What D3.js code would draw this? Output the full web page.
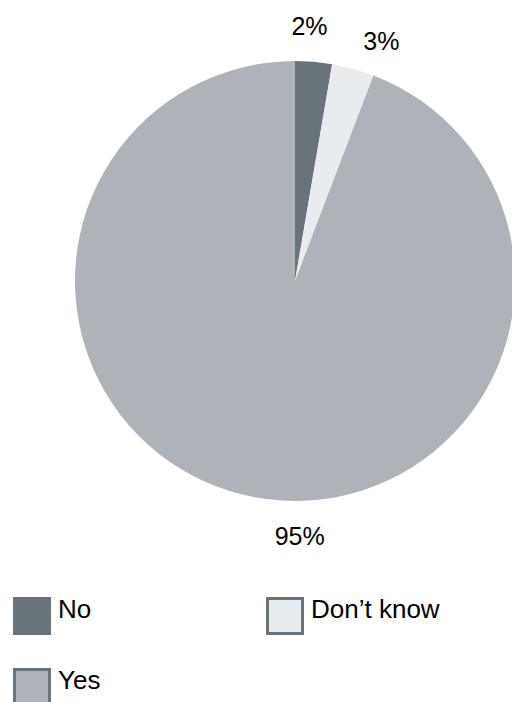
<!doctype html>
<html lang="en">
<head>
<meta charset="UTF-8">
<title>Pie</title>
<script src="https://cdn.jsdelivr.net/npm/d3@7"></script>
<style>
  body { margin: 0; background: #fff; }
  text { font-family: "Liberation Sans", Arial, sans-serif; fill: #000; }
</style>
</head>
<body>
<script>
var categories = ["No", "Don\u2019t know", "Yes"];
var values = [2.7, 3.1, 94.2];
var valueLabels = ["2%", "3%", "95%"];
var colours = ["#69737a", "#e8ecef", "#adb3b8"];

var WIDTH = 512, HEIGHT = 702;
var cx = 295, cy = 281, radius = 220;

var svg = d3.select("body").append("svg")
    .attr("width", WIDTH)
    .attr("height", HEIGHT);

var pie = d3.pie().sort(null).value(function(d) { return d; });
var arcs = pie(values);

var arc = d3.arc().innerRadius(0).outerRadius(radius);

var g = svg.append("g").attr("transform", "translate(" + cx + "," + cy + ")");

g.selectAll("path")
  .data(arcs)
  .enter()
  .append("path")
  .attr("d", arc)
  .attr("fill", function(d, i) { return colours[i]; });

// labels sit outside the pie; small angle nudges so they don't crowd (degrees)
var labelR = 255;
var nudge = [-1.6, 4.5, -11.5];
g.selectAll("text.pct")
  .data(arcs)
  .enter()
  .append("text")
  .attr("class", "pct")
  .attr("font-size", 25)
  .attr("text-anchor", "middle")
  .attr("dominant-baseline", "central")
  .attr("x", function(d, i) {
    var a = (d.startAngle + d.endAngle) / 2 + nudge[i] * Math.PI / 180;
    return labelR * Math.sin(a);
  })
  .attr("y", function(d, i) {
    var a = (d.startAngle + d.endAngle) / 2 + nudge[i] * Math.PI / 180;
    return -labelR * Math.cos(a);
  })
  .text(function(d, i) { return valueLabels[i]; });

// legend, two columns
var legend = svg.append("g");
var items = legend.selectAll("g")
  .data(categories)
  .enter()
  .append("g")
  .attr("transform", function(d, i) {
    var col = i % 2, row = Math.floor(i / 2);
    return "translate(" + (13 + col * 253) + "," + (597 + row * 71) + ")";
  });

items.append("rect")
  .attr("x", function(d, i) { return i === 0 ? 0 : 1.5; })
  .attr("y", function(d, i) { return i === 0 ? 0 : 1.5; })
  .attr("width", function(d, i) { return i === 0 ? 38 : 35; })
  .attr("height", function(d, i) { return i === 0 ? 38 : 35; })
  .attr("fill", function(d, i) { return colours[i]; })
  .attr("stroke", function(d, i) { return i === 0 ? "none" : "#69737a"; })
  .attr("stroke-width", 3);

items.append("text")
  .attr("x", 45)
  .attr("y", 21)
  .attr("font-size", 26)
  .text(function(d) { return d; });
</script>
</body>
</html>
